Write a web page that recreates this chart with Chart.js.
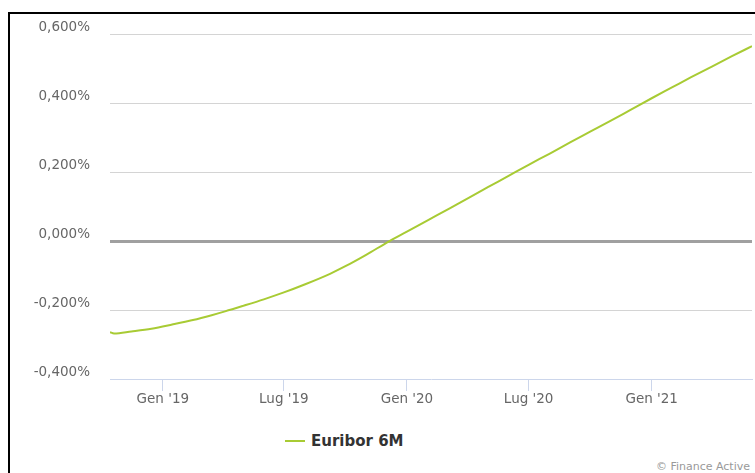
<!DOCTYPE html>
<html>
<head>
<meta charset="utf-8">
<script src="https://cdn.jsdelivr.net/npm/chart.js@4"></script>
<style>
  body { margin: 0; background: #fff; font-family: "DejaVu Sans", sans-serif; }
  #box { position: absolute; left: 8px; top: 12px; width: 800px; height: 500px;
         border-left: 2px solid #000; border-top: 2px solid #000; }
  #wrap { position: absolute; left: 10px; top: 6px; width: 745px; height: 408px; }
  #legend { position: absolute; left: 285px; top: 432px; font-size: 15px; font-weight: bold; color: #333; }
  #legend span.sw { display: inline-block; width: 20px; height: 2px; background: #a8cb34; vertical-align: middle; margin-right: 6px; position: relative; top: -1px; }
  #credit { position: absolute; right: 5px; top: 460px; font-size: 11px; color: #999; }
</style>
</head>
<body>
<div id="box"></div>
<div id="wrap"><canvas id="myChart"></canvas></div>
<div id="legend"><span class="sw"></span>Euribor 6M</div>
<div id="credit">© Finance Active</div>
<script>
const dates = ['2018-10-14','2018-10-20','2018-11-15','2018-12-15','2019-01-15','2019-02-15','2019-03-15','2019-04-04',
  '2019-05-01','2019-06-01','2019-07-01','2019-08-01','2019-09-08','2019-10-01','2019-11-01','2019-12-06',
  '2020-01-01','2020-02-01','2020-03-05','2020-04-01','2020-05-01','2020-06-01','2020-07-01','2020-08-01',
  '2020-09-01','2020-10-01','2020-11-01','2020-12-01','2021-01-01','2021-02-01','2021-03-01','2021-04-01',
  '2021-05-01','2021-05-31'];
const euribor6m = [-0.264,-0.268,-0.262,-0.254,-0.242,-0.229,-0.215,-0.204,
  -0.188,-0.169,-0.149,-0.126,-0.095,-0.073,-0.040,0.000,
  0.027,0.060,0.095,0.124,0.156,0.189,0.221,0.253,
  0.286,0.317,0.349,0.381,0.414,0.446,0.475,0.506,
  0.536,0.565];
const tickDates = ['2019-01-01','2019-07-01','2020-01-01','2020-07-01','2021-01-01'];
const tickLabels = ["Gen '19","Lug '19","Gen '20","Lug '20","Gen '21"];
const yTicks = [-0.4, -0.2, 0, 0.2, 0.4, 0.6];

const points = dates.map((d, i) => ({ x: Date.parse(d), y: euribor6m[i] }));

var ctx = document.getElementById('myChart').getContext('2d');

var myChart = new Chart(ctx, {
    type: 'line',
    data: {
        datasets: [{
            label: 'Euribor 6M',
            data: points,
            borderColor: '#a8cb34',
            borderWidth: 2,
            pointRadius: 0,
            cubicInterpolationMode: 'monotone',
            fill: false
        }]
    },
    options: {
        responsive: true,
        maintainAspectRatio: false,
        animation: false,
        layout: { padding: { top: 12, right: 3, bottom: 0, left: 0 } },
        plugins: { legend: { display: false }, tooltip: { enabled: false } },
        scales: {
            x: {
                type: 'linear',
                min: Date.parse('2018-10-14'),
                max: Date.parse('2021-05-31'),
                afterBuildTicks: function (scale) {
                    scale.ticks = tickDates.map(d => ({ value: Date.parse(d) }));
                },
                afterFit: function (scale) { scale.height = 35; },
                ticks: {
                    autoSkip: false,
                    maxRotation: 0,
                    padding: 0,
                    color: '#666',
                    font: { family: 'DejaVu Sans', size: 13.5 },
                    callback: function (value, index) { return tickLabels[index]; }
                },
                grid: { drawOnChartArea: false, drawTicks: true, tickLength: 12, color: '#ccd6eb' },
                border: { color: '#ccd6eb', width: 1 }
            },
            y: {
                min: -0.4,
                max: 0.6,
                afterBuildTicks: function (scale) {
                    scale.ticks = yTicks.map(v => ({ value: v }));
                },
                afterFit: function (scale) { scale.width = 100; },
                ticks: {
                    padding: 20,
                    labelOffset: -7,
                    color: '#666',
                    font: { family: 'DejaVu Sans', size: 13.5 },
                    callback: function (value) { return value.toFixed(3).replace('.', ',') + '%'; }
                },
                grid: {
                    drawTicks: false,
                    color: function (c) {
                        const v = c.tick ? c.tick.value : 1;
                        if (Math.abs(v) < 1e-9) return '#a0a0a0';
                        if (Math.abs(v + 0.4) < 1e-9) return 'rgba(0,0,0,0)';
                        return '#d4d4d4';
                    },
                    lineWidth: function (c) {
                        const v = c.tick ? c.tick.value : 1;
                        return Math.abs(v) < 1e-9 ? 3 : 1;
                    }
                },
                border: { display: false }
            }
        }
    }
});
</script>
</body>
</html>
